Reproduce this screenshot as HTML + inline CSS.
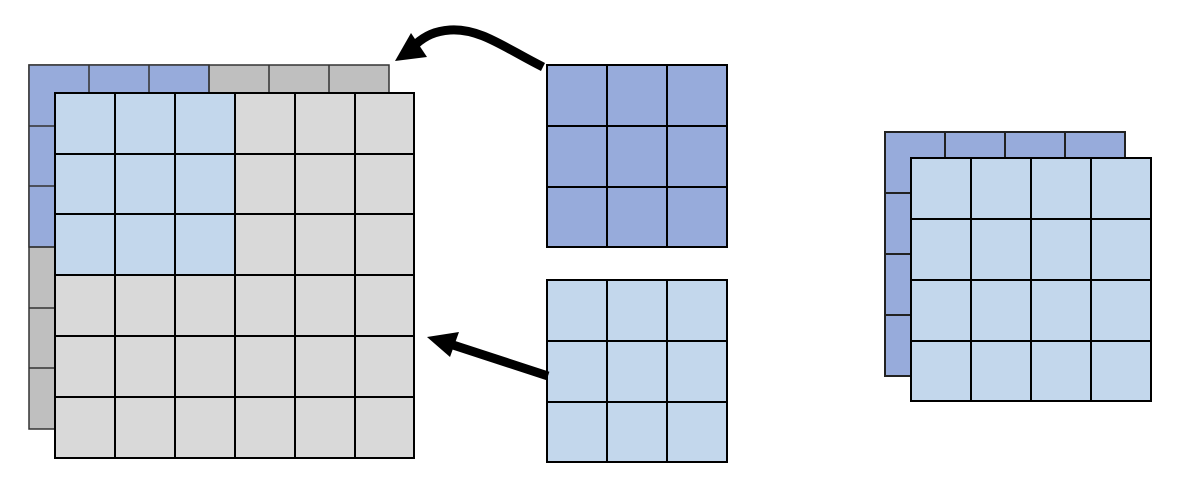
<!DOCTYPE html>
<html><head><style>html,body{margin:0;padding:0;background:#fff;width:1190px;height:498px;overflow:hidden}</style></head>
<body>
<svg width="1190" height="498" xmlns="http://www.w3.org/2000/svg">
<defs>
<pattern id="g60" width="60" height="61" patternUnits="userSpaceOnUse"></pattern>
</defs>
<!-- back left grid -->
<g stroke="#333" stroke-width="1.5">
<rect x="29" y="65" width="360" height="364" fill="#bfbfbf"/>
<rect x="29" y="65" width="180" height="182" fill="#97abdb"/>
<path d="M89 65V93M149 65V93M209 65V93M269 65V93M329 65V93M29 126H55M29 186H55M29 247H55M29 308H55M29 368H55" fill="none"/>
</g>
<!-- front left grid -->
<g stroke="#000" stroke-width="2">
<rect x="55" y="93" width="359" height="365" fill="#d9d9d9"/>
<rect x="55" y="93" width="180" height="182" fill="#c3d7ec"/>
<path d="M115 93V458M175 93V458M235 93V458M295 93V458M355 93V458M55 154H414M55 214H414M55 275H414M55 336H414M55 397H414" fill="none"/>
</g>
<!-- kernel 1 -->
<g stroke="#000" stroke-width="2">
<rect x="547" y="65" width="180" height="182" fill="#97abdb"/>
<path d="M607 65V247M667 65V247M547 126H727M547 187H727" fill="none"/>
</g>
<!-- kernel 2 -->
<g stroke="#000" stroke-width="2">
<rect x="547" y="280" width="180" height="182" fill="#c3d7ec"/>
<path d="M607 280V462M667 280V462M547 341H727M547 402H727" fill="none"/>
</g>
<!-- right back -->
<g stroke="#222" stroke-width="2">
<rect x="885" y="132" width="240" height="244" fill="#97abdb"/>
<path d="M945 132V158M1005 132V158M1065 132V158M885 193H911M885 254H911M885 315H911" fill="none"/>
</g>
<!-- right front -->
<g stroke="#000" stroke-width="2">
<rect x="911" y="158" width="240" height="243" fill="#c3d7ec"/>
<path d="M971 158V401M1031 158V401M1091 158V401M911 219H1151M911 280H1151M911 341H1151" fill="none"/>
</g>
<!-- arrows -->
<path d="M543 67 C505 48 480 28 450 30 C435 31 425 36 416 44" fill="none" stroke="#000" stroke-width="9"/>
<polygon points="395,61 411,33 427,57" fill="#000"/>
<line x1="548" y1="376" x2="450" y2="344" stroke="#000" stroke-width="9"/>
<polygon points="427,337 459,332 450,357" fill="#000"/>
</svg>
</body></html>
